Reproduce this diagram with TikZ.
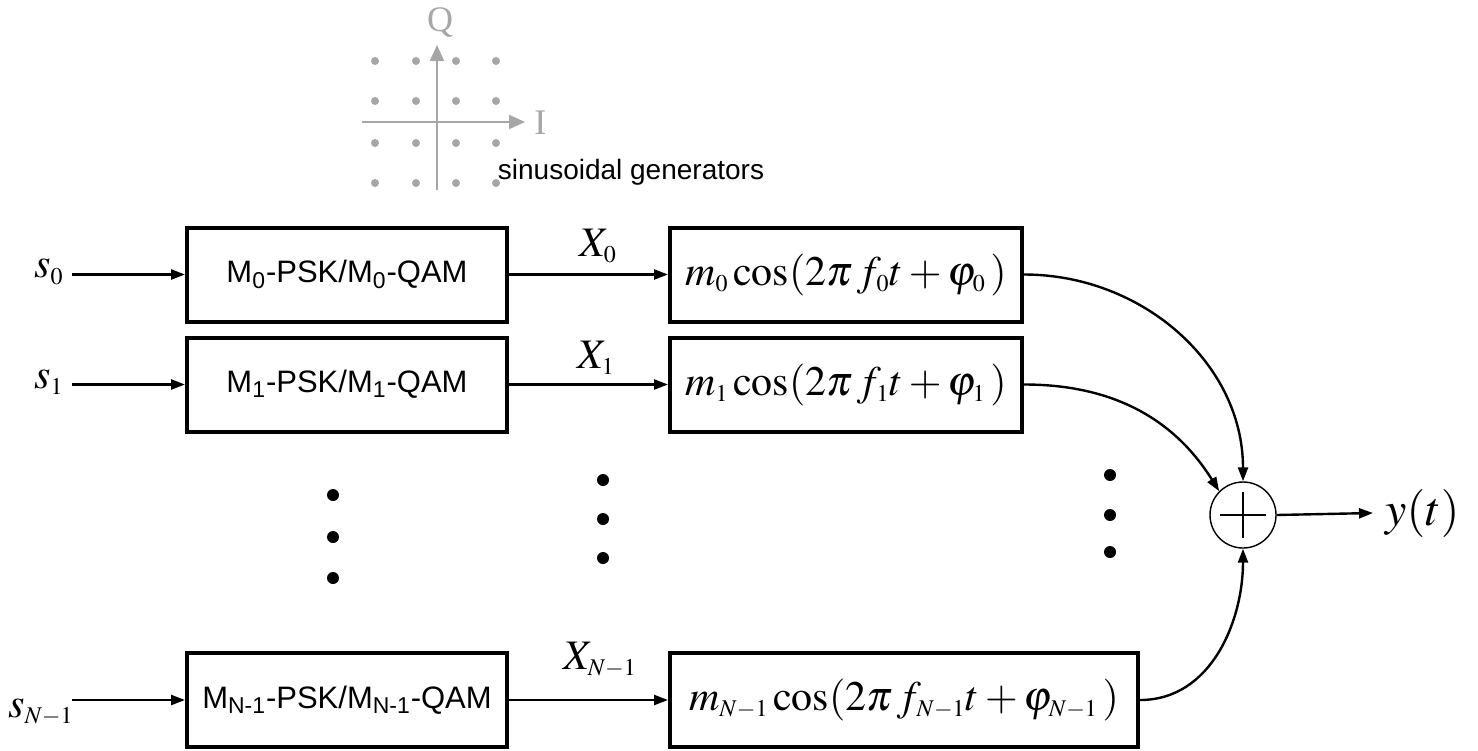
\documentclass[tikz,border=0pt]{standalone}
\usepackage{mathptmx}
\usepackage[no-math]{fontspec}
\setmainfont{Liberation Serif}
\setsansfont{Liberation Sans}
\usetikzlibrary{arrows.meta}
\DeclareMathSizes{21}{21}{12}{9}
\DeclareMathSizes{24}{24}{14}{10}
\definecolor{axgray}{HTML}{A6A6A6}
\newcommand{\modtext}[1]{M\textsubscript{#1}-PSK/M\textsubscript{#1}-QAM}
\begin{document}
\begin{tikzpicture}[x=0.5pt,y=-0.5pt,
  every node/.style={inner sep=0pt},
  modbox/.style={draw,line width=2pt,minimum width=160pt,minimum height=47pt,font=\sffamily\fontsize{15.5}{18}\selectfont},
  genbox/.style={draw,line width=2pt,minimum height=47pt,font=\fontsize{21}{25}\selectfont},
  mlabel/.style={font=\fontsize{21}{25}\selectfont},
  sig/.style={line width=1.2pt,-{Triangle[length=7pt,width=5pt]}},
  vdot/.style={fill,circle,minimum size=6pt},
  qdot/.style={fill=axgray,circle,minimum size=4pt}]
\useasboundingbox (0,0) rectangle (1478,750);
\draw [axgray,line width=1pt,-{Triangle[length=8pt,width=7pt]}] (362,122) -- (525,122);
\draw [axgray,line width=1pt,-{Triangle[length=8pt,width=7pt]}] (437,190) -- (437,45);
\node [text=axgray,font=\fontsize{18}{20}\selectfont] (qlab) at (440,22) {Q};
\node [text=axgray,font=\fontsize{18}{20}\selectfont,anchor=west] (ilab) at (534,123) {I};
\foreach \i in {375,416,456,496}
  \foreach \j in {61,101,143,183}
    \node [qdot] at (\i,\j) {};
\node [font=\sffamily\fontsize{14}{16}\selectfont] (gentitle) at (631,172) {sinusoidal generators};
\node [modbox] (m0) at (347,274.5) {\modtext{0}};
\node [modbox] (m1) at (347,384.5) {\modtext{1}};
\node [modbox] (mN) at (347,700) {\modtext{N-1}};
\node [genbox,minimum width=176pt] (g0) at (846,274.5) {$m_0\cos(2\pi\,f_0t+\varphi_0\,)$};
\node [genbox,minimum width=176pt] (g1) at (846,384.5) {$m_1\cos(2\pi\,f_1t+\varphi_1\,)$};
\node [genbox,minimum width=234pt] (gN) at (904,700) {$m_{N-1}\cos(2\pi\,f_{N-1}t+\varphi_{N-1}\,)$};
\node [mlabel,anchor=east] (s0) at (64,272) {$s_0$};
\node [mlabel,anchor=east] (s1) at (64,382) {$s_1$};
\node [mlabel,anchor=east] (sN) at (74,712) {$s_{N-1}$};
\node [mlabel] (x0) at (598,246) {$X_0$};
\node [mlabel] (x1) at (596,358) {$X_1$};
\node [mlabel] (xN) at (600,660) {$X_{N-1}$};
\draw [sig] (72,274.5) -- (m0.west);
\draw [sig] (72,384.5) -- (m1.west);
\draw [sig] (72,700) -- (mN.west);
\draw [sig] (m0.east) -- (g0.west);
\draw [sig] (m1.east) -- (g1.west);
\draw [sig] (mN.east) -- (gN.west);
\node [draw,circle,line width=0.7pt,minimum size=33pt] (sum) at (1243,515) {};
\draw [line width=0.6pt] (1220,515) -- (1266,515) (1243,492) -- (1243,538);
\node [font=\fontsize{24}{28}\selectfont,anchor=west,inner xsep=6pt] (yt) at (1373,513) {$y(t)$};
\draw [sig] (sum.east) -- (yt.west);
\draw [sig] (g0.east) to[out=0,in=90] (sum.north);
\draw [sig] (g1.east) to[out=0,in=122] (sum.north west);
\draw [sig] (gN.east) to[out=0,in=-90] (sum.south);
\foreach \k in {495,537,578}
  \node [vdot] at (333,\k) {};
\foreach \k in {480,519,558}
  \node [vdot] at (603,\k) {};
\foreach \k in {475,515,552}
  \node [vdot] at (1110,\k) {};
\end{tikzpicture}
\end{document}
